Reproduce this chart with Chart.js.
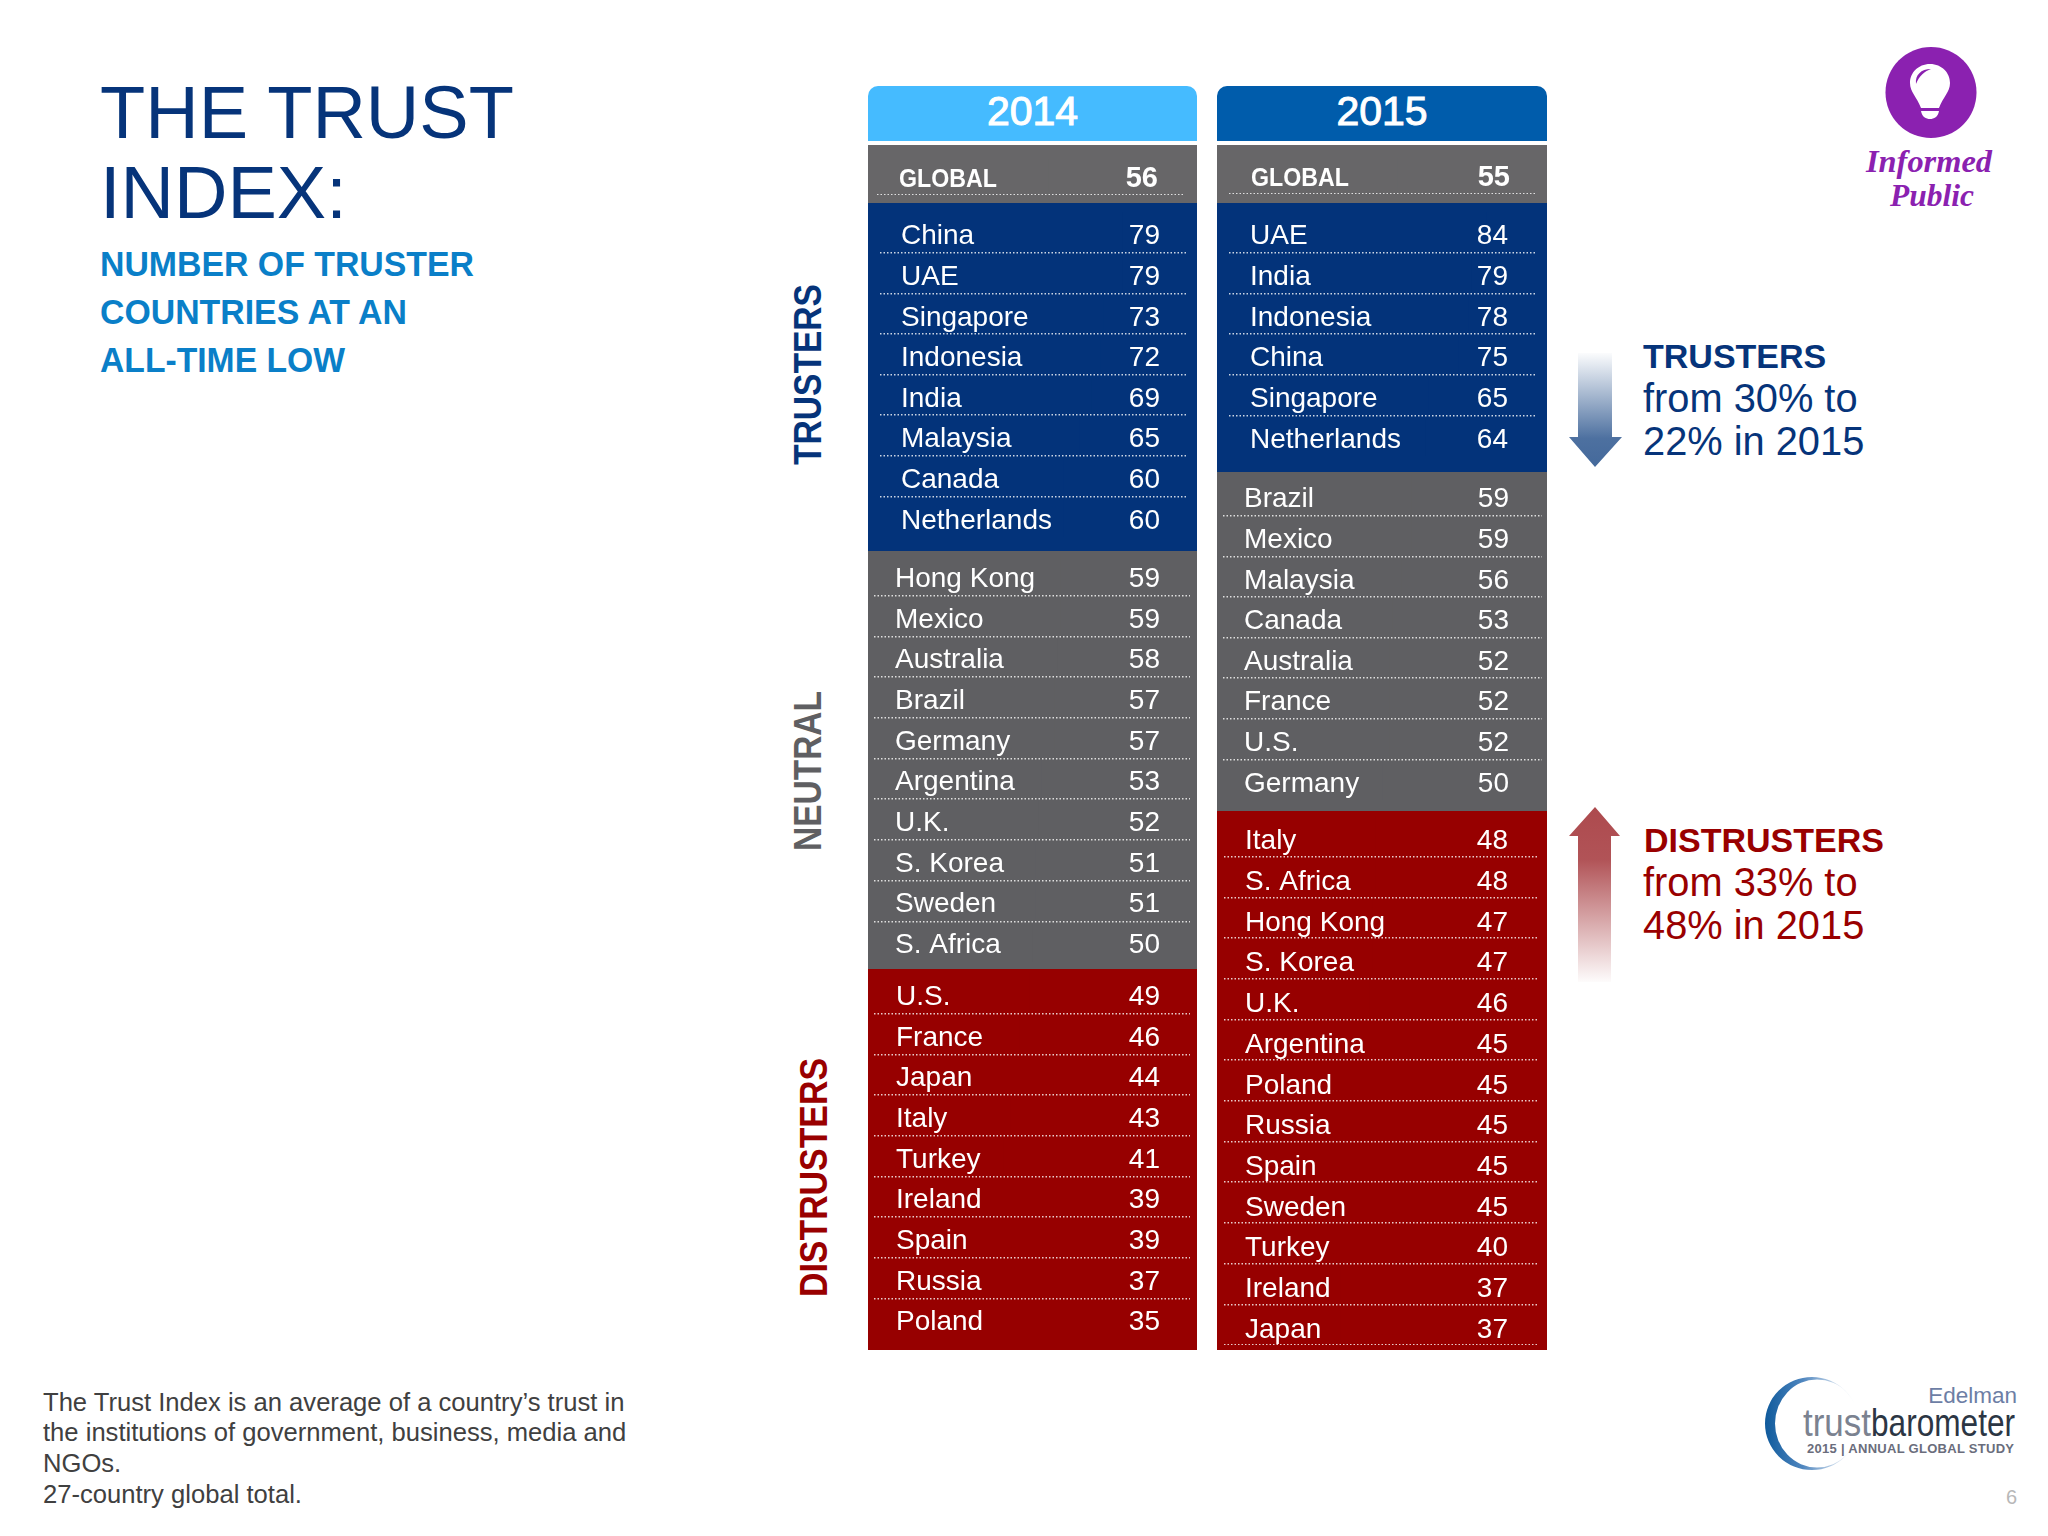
<!DOCTYPE html>
<html>
<head>
<meta charset="utf-8">
<title>The Trust Index</title>
<script src="https://cdn.jsdelivr.net/npm/chart.js@4/dist/chart.umd.min.js"></script>
<style>
  html, body { margin: 0; padding: 0; background: #fff; }
  #page { position: relative; width: 2048px; height: 1536px; overflow: hidden; }
  #page svg { position: absolute; left: 0; top: 0; }
  .panel { position: absolute; }
  .panel canvas { position: absolute; }
  .year { position: absolute; border-radius: 10px 10px 0 0; }
</style>
</head>
<body>
<div id="page">
  <div class="year" style="left:868px;top:86px;width:329px;height:55px;background:#45bbff"></div>
  <div class="year" style="left:1217px;top:86px;width:330px;height:55px;background:#005cab"></div>

  <svg width="2048" height="1536" font-family="'Liberation Sans'">
    <defs>
      <linearGradient id="downGrad" x1="0" y1="0" x2="0" y2="1">
        <stop offset="0" stop-color="#44699b" stop-opacity="0.02"/>
        <stop offset="0.75" stop-color="#44699b" stop-opacity="0.95"/>
        <stop offset="1" stop-color="#44699b"/>
      </linearGradient>
      <linearGradient id="upGrad" x1="0" y1="1" x2="0" y2="0">
        <stop offset="0" stop-color="#ad4a4e" stop-opacity="0.02"/>
        <stop offset="0.7" stop-color="#ad4a4e" stop-opacity="0.95"/>
        <stop offset="1" stop-color="#ad4a4e"/>
      </linearGradient>
      <linearGradient id="ringGrad" x1="0" y1="0" x2="1" y2="0">
        <stop offset="0" stop-color="#0f5a9c"/>
        <stop offset="0.4" stop-color="#4f86bf"/>
        <stop offset="0.75" stop-color="#c7d8ea"/>
        <stop offset="1" stop-color="#ffffff" stop-opacity="0"/>
      </linearGradient>
    </defs>

    <!-- title -->
    <text x="100" y="138" font-size="74" fill="#06347a">THE TRUST</text>
    <text x="100" y="218" font-size="74" fill="#06347a">INDEX:</text>
    <g font-weight="700" font-size="35" fill="#0a7fc8">
      <text x="100" y="276" textLength="374" lengthAdjust="spacingAndGlyphs">NUMBER OF TRUSTER</text>
      <text x="100" y="324" textLength="307" lengthAdjust="spacingAndGlyphs">COUNTRIES AT AN</text>
      <text x="100" y="372" textLength="245" lengthAdjust="spacingAndGlyphs">ALL-TIME LOW</text>
    </g>

    <!-- year headers -->
    <g font-size="41" fill="#fff" stroke="#fff" stroke-width="1" text-anchor="middle">
      <text x="1032.5" y="125">2014</text>
      <text x="1382" y="125">2015</text>
    </g>

    <!-- group labels -->
    <g font-weight="700" font-size="39">
      <text transform="translate(820.5,465) rotate(-90)" textLength="181" lengthAdjust="spacingAndGlyphs" fill="#06347a">TRUSTERS</text>
      <text transform="translate(820.5,851) rotate(-90)" textLength="160" lengthAdjust="spacingAndGlyphs" fill="#5f5f62">NEUTRAL</text>
      <text transform="translate(826.7,1297) rotate(-90)" textLength="239" lengthAdjust="spacingAndGlyphs" fill="#990000">DISTRUSTERS</text>
    </g>

    <!-- arrows -->
    <path d="M1578 353H1612V437H1622L1595 467L1569 437H1578Z" fill="url(#downGrad)"/>
    <path d="M1578 982H1611V836H1620L1595 807L1569 836H1578Z" fill="url(#upGrad)"/>

    <!-- annotations -->
    <g fill="#06347a" font-size="39.8">
      <text x="1643" y="368" font-size="34" font-weight="700">TRUSTERS</text>
      <text x="1643" y="412">from 30% to</text>
      <text x="1643" y="455">22% in 2015</text>
    </g>
    <g fill="#990000" font-size="39.8">
      <text x="1644" y="852" font-size="34" font-weight="700">DISTRUSTERS</text>
      <text x="1643" y="896">from 33% to</text>
      <text x="1643" y="939">48% in 2015</text>
    </g>

    <!-- informed public badge -->
    <circle cx="1931" cy="92.5" r="45.5" fill="#8b21b0"/>
    <path d="M1930 64C1918 64 1910 73 1910 83C1910 92 1917 97 1921 108H1939C1943 97 1950 92 1950 83C1950 73 1942 64 1930 64Z" fill="#fff"/>
    <path d="M1921 111H1939C1938 117 1934 119 1930 119C1926 119 1922 117 1921 111Z" fill="#fff"/>
    <path d="M1916 84C1915 75 1921 69 1931 69C1925 71 1919 76 1916 84Z" fill="#8b21b0"/>
    <g font-family="'Liberation Serif'" font-style="italic" font-weight="700" font-size="31" fill="#8b21b0" text-anchor="middle">
      <text x="1929" y="171.5" textLength="126" lengthAdjust="spacingAndGlyphs">Informed</text>
      <text x="1932" y="205.5" textLength="84" lengthAdjust="spacingAndGlyphs">Public</text>
    </g>

    <!-- footnote -->
    <g font-size="25.6" fill="#404040">
      <text x="43" y="1411">The Trust Index is an average of a country’s trust in</text>
      <text x="43" y="1441">the institutions of government, business, media and</text>
      <text x="43" y="1472">NGOs.</text>
      <text x="43" y="1503">27-country global total.</text>
    </g>

    <!-- edelman logo -->
    <path fill-rule="evenodd" fill="url(#ringGrad)" d="M1765 1423.5a47 46.5 0 1 0 94 0a47 46.5 0 1 0 -94 0ZM1775 1423.5a42 44 0 1 0 84 0a42 44 0 1 0 -84 0Z"/>
    <text x="2017" y="1403" font-size="22.5" fill="#6d7ea5" text-anchor="end">Edelman</text>
    <g font-size="39">
      <text x="1803" y="1436" textLength="68" lengthAdjust="spacingAndGlyphs" fill="#7b8290">trust</text>
      <text x="1871" y="1436" textLength="144" lengthAdjust="spacingAndGlyphs" fill="#2c3644">barometer</text>
    </g>
    <text x="1807" y="1453" font-size="13" font-weight="700" fill="#6a6d7c" textLength="207" lengthAdjust="spacing">2015 | ANNUAL GLOBAL STUDY</text>
    <text x="2006" y="1504" font-size="20" fill="#b8b8b8">6</text>
  </svg>
</div>

<script>
// 2014
const global2014 = ['GLOBAL'];
const globalValue2014 = [56];
const trusters2014 = ['China', 'UAE', 'Singapore', 'Indonesia', 'India', 'Malaysia', 'Canada', 'Netherlands'];
const trustersValues2014 = [79, 79, 73, 72, 69, 65, 60, 60];
const neutral2014 = ['Hong Kong', 'Mexico', 'Australia', 'Brazil', 'Germany', 'Argentina', 'U.K.', 'S. Korea', 'Sweden', 'S. Africa'];
const neutralValues2014 = [59, 59, 58, 57, 57, 53, 52, 51, 51, 50];
const distrusters2014 = ['U.S.', 'France', 'Japan', 'Italy', 'Turkey', 'Ireland', 'Spain', 'Russia', 'Poland'];
const distrustersValues2014 = [49, 46, 44, 43, 41, 39, 39, 37, 35];

// 2015
const global2015 = ['GLOBAL'];
const globalValue2015 = [55];
const trusters2015 = ['UAE', 'India', 'Indonesia', 'China', 'Singapore', 'Netherlands'];
const trustersValues2015 = [84, 79, 78, 75, 65, 64];
const neutral2015 = ['Brazil', 'Mexico', 'Malaysia', 'Canada', 'Australia', 'France', 'U.S.', 'Germany'];
const neutralValues2015 = [59, 59, 56, 53, 52, 52, 52, 50];
const distrusters2015 = ['Italy', 'S. Africa', 'Hong Kong', 'S. Korea', 'U.K.', 'Argentina', 'Poland', 'Russia', 'Spain', 'Sweden', 'Turkey', 'Ireland', 'Japan'];
const distrustersValues2015 = [48, 48, 47, 47, 46, 45, 45, 45, 45, 45, 40, 37, 37];

const BLUE = '#03337a';
const GRAY_TOP = '#676668';
const GRAY = '#5f5f62';
const RED = '#970000';

// country name and number of each row, placed with the chart's own y scale
const rowText = {
    id: 'rowText',
    afterDatasetsDraw(chart, args, o) {
        const ctx = chart.ctx;
        const y = chart.scales.y;
        const area = chart.chartArea;
        ctx.save();
        ctx.fillStyle = '#fff';
        ctx.textBaseline = 'alphabetic';
        chart.data.labels.forEach(function (label, i) {
            const py = y.getPixelForValue(i) + o.drop;
            ctx.save();
            ctx.font = o.labelFont;
            ctx.textAlign = 'left';
            ctx.translate(area.left + o.labelPad, py);
            ctx.scale(o.labelSqueeze, 1);
            ctx.fillText(label, 0, 0);
            ctx.restore();
            ctx.font = o.valueFont;
            ctx.textAlign = 'right';
            ctx.fillText(String(chart.data.datasets[0].data[i]), area.right - o.valuePad, py);
        });
        ctx.restore();
    }
};

// one block of rows: the div is the coloured panel, the chart sits on it
function addBlock(box, rows, labels, values, color, opts) {
    const panel = document.createElement('div');
    panel.className = 'panel';
    panel.style.cssText = 'left:' + box.x + 'px;top:' + box.y + 'px;width:' + box.w + 'px;height:' + box.h + 'px;background:' + color;
    const canvas = document.createElement('canvas');
    canvas.width = rows.w;
    canvas.height = rows.h;
    canvas.style.cssText = 'left:' + (rows.x - box.x) + 'px;top:' + (rows.y - box.y) + 'px;width:' + rows.w + 'px;height:' + rows.h + 'px';
    panel.appendChild(canvas);
    document.getElementById('page').appendChild(panel);

    const lastLine = !!opts.lastLine;

    new Chart(canvas, {
        type: 'bar',
        data: {
            labels: labels,
            datasets: [{
                data: values,
                backgroundColor: color,
                borderWidth: 0,
                barPercentage: 1,
                categoryPercentage: 1
            }]
        },
        options: {
            indexAxis: 'y',
            responsive: false,
            animation: false,
            devicePixelRatio: 1,
            layout: { autoPadding: false, padding: 0 },
            plugins: {
                legend: { display: false },
                tooltip: { enabled: false },
                rowText: {
                    labelPad: opts.labelPad,
                    valuePad: opts.valuePad,
                    labelFont: opts.labelFont || "28px 'Liberation Sans'",
                    valueFont: opts.valueFont || "28px 'Liberation Sans'",
                    labelSqueeze: opts.labelSqueeze || 1,
                    drop: opts.drop || 12
                }
            },
            scales: {
                x: { display: false, min: 0, max: 100 },
                y: {
                    border: { display: false, dash: [1.5, 2] },
                    grid: {
                        z: 1,
                        offset: true,
                        drawTicks: false,
                        lineWidth: 1.5,
                        color: function (ctx) {
                            if (ctx.index === 0) return 'rgba(0,0,0,0)';
                            if (ctx.index === undefined && !lastLine) return 'rgba(0,0,0,0)';
                            return 'rgba(255,255,255,0.8)';
                        }
                    },
                    ticks: { display: false }
                }
            }
        },
        plugins: [rowText]
    });
}

const globalStyle = {
    lastLine: true, labelPad: 22, valuePad: 25, drop: 9.5, labelSqueeze: 0.875,
    labelFont: "700 26.5px 'Liberation Sans'", valueFont: "700 29px 'Liberation Sans'"
};

// 2014 column
addBlock({ x: 868, y: 145, w: 329, h: 58 }, { x: 877, y: 159, w: 306, h: 36 }, global2014, globalValue2014, GRAY_TOP, globalStyle);
addBlock({ x: 868, y: 203, w: 329, h: 348 }, { x: 880, y: 212, w: 306, h: 325 }, trusters2014, trustersValues2014, BLUE,
    { labelPad: 21, valuePad: 26 });
addBlock({ x: 868, y: 551, w: 329, h: 418 }, { x: 874, y: 555, w: 316, h: 407 }, neutral2014, neutralValues2014, GRAY,
    { labelPad: 21, valuePad: 30, drop: 11.5 });
addBlock({ x: 868, y: 969, w: 329, h: 381 }, { x: 874, y: 973, w: 316, h: 366 }, distrusters2014, distrustersValues2014, RED,
    { labelPad: 22, valuePad: 30, drop: 11.5 });

// 2015 column
addBlock({ x: 1217, y: 145, w: 330, h: 58 }, { x: 1229, y: 158, w: 306, h: 36 }, global2015, globalValue2015, GRAY_TOP, globalStyle);
addBlock({ x: 1217, y: 203, w: 330, h: 269 }, { x: 1229, y: 212, w: 306, h: 244 }, trusters2015, trustersValues2015, BLUE,
    { labelPad: 21, valuePad: 27 });
addBlock({ x: 1217, y: 472, w: 330, h: 339 }, { x: 1223, y: 475, w: 319, h: 325 }, neutral2015, neutralValues2015, GRAY,
    { labelPad: 21, valuePad: 33 });
addBlock({ x: 1217, y: 811, w: 330, h: 539 }, { x: 1224, y: 816, w: 315, h: 529 }, distrusters2015, distrustersValues2015, RED,
    { lastLine: true, labelPad: 21, valuePad: 31, drop: 13 });
</script>
</body>
</html>
